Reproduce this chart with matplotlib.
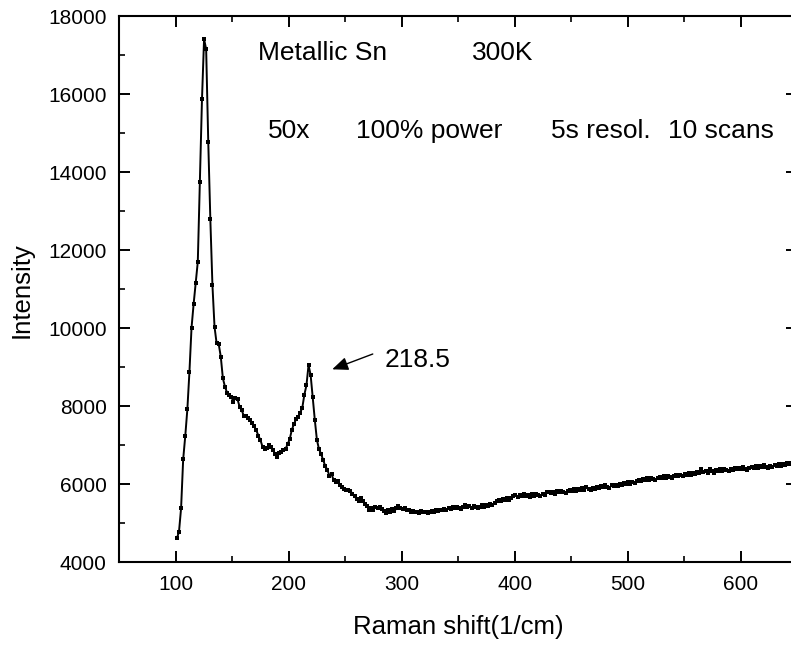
import numpy as np
import matplotlib
matplotlib.use("Agg")
import matplotlib.pyplot as plt
from matplotlib.ticker import MultipleLocator

plt.rcParams['font.family'] = ['Liberation Sans', 'DejaVu Sans']

# Raman spectrum of metallic Sn, sampled every ~1.85 1/cm starting at 101 1/cm
x_start = 101.0
x_step = 1.85
intensity = [
    4615, 4785, 5385, 6641, 7238, 7923, 8887, 10015, 10623, 11153,
    11707, 13743, 15870, 17417, 17155, 14784, 12795, 11110, 10041, 9615,
    9597, 9272, 8718, 8503, 8349, 8300, 8250, 8120, 8210, 8180,
    7990, 7900, 7760, 7740, 7690, 7650, 7570, 7490, 7380, 7250,
    7130, 6960, 6910, 6930, 7000, 6960, 6880, 6780, 6710, 6800,
    6840, 6890, 6910, 7030, 7160, 7400, 7540, 7670, 7730, 7840,
    7960, 8300, 8540, 9060, 8800, 8230, 7650, 7140, 6900, 6780,
    6620, 6470, 6370, 6220, 6260, 6110, 6070, 6084, 5980, 5940,
    5880, 5860, 5850, 5830, 5760, 5700, 5620, 5580, 5640, 5560,
    5500, 5440, 5350, 5400, 5340, 5420, 5380, 5420, 5360, 5310,
    5260, 5330, 5290, 5360, 5310, 5380, 5440, 5400, 5360, 5390,
    5340, 5330, 5300, 5320, 5280, 5300, 5270, 5310, 5280, 5300,
    5260, 5280, 5320, 5290, 5340, 5310, 5350, 5330, 5370, 5340,
    5390, 5360, 5410, 5380, 5430, 5400, 5370, 5420, 5460, 5410,
    5440, 5400, 5450, 5420, 5380, 5420, 5460, 5430, 5480, 5450,
    5500, 5470, 5520, 5560, 5590, 5560, 5620, 5600, 5640, 5610,
    5660, 5700, 5730, 5680, 5720, 5690, 5740, 5700, 5730, 5680,
    5740, 5710, 5760, 5730, 5700, 5760, 5730, 5790, 5810, 5770,
    5800, 5760, 5820, 5790, 5840, 5810, 5780, 5830, 5860, 5820,
    5870, 5840, 5880, 5850, 5900, 5860, 5920, 5880, 5850, 5910,
    5890, 5940, 5900, 5950, 5920, 5970, 5940, 5910, 5970, 5950,
    5990, 5960, 6010, 5980, 6030, 6000, 6050, 6020, 6070, 6040,
    6090, 6120, 6080, 6130, 6100, 6150, 6120, 6170, 6140, 6110,
    6160, 6190, 6150, 6200, 6170, 6220, 6190, 6160, 6210, 6240,
    6200, 6250, 6220, 6270, 6240, 6290, 6250, 6300, 6270, 6320,
    6290, 6380, 6310, 6350, 6300, 6390, 6340, 6300, 6360, 6330,
    6380, 6350, 6400, 6360, 6330, 6390, 6360, 6410, 6380, 6420,
    6390, 6440, 6400, 6370, 6420, 6450, 6410, 6460, 6430, 6470,
    6440, 6490, 6450, 6420, 6480, 6450, 6500, 6470, 6510, 6480,
    6530, 6500, 6540, 6510, 6550, 6520,
]
raman_shift = x_start + x_step * np.arange(len(intensity))

x_ticks = [100, 200, 300, 400, 500, 600]
y_ticks = [4000, 6000, 8000, 10000, 12000, 14000, 16000, 18000]

W, H = 791, 645
fig = plt.figure(figsize=(W / 100, H / 100), dpi=100)
# right spine lies just outside the (cropped) image
ax = fig.add_axes([119.3 / W, (H - 562.3) / H, (797.0 - 119.3) / W, (562.3 - 16.3) / H])

ax.plot(raman_shift, intensity, color='black', linewidth=1.4,
        marker='s', markersize=3.0, markeredgewidth=0, clip_on=True)

ax.set_xlim(50, 650)
ax.set_ylim(4000, 18000)
ax.set_xticks(x_ticks)
ax.set_yticks(y_ticks)
ax.xaxis.set_minor_locator(MultipleLocator(50))
ax.yaxis.set_minor_locator(MultipleLocator(1000))
ax.tick_params(which='both', direction='in', top=True, right=True,
               labelsize=15, colors='black')
ax.tick_params(which='major', length=8, width=1.4, pad=9)
ax.tick_params(which='minor', length=4.5, width=1.2)
for s in ax.spines.values():
    s.set_linewidth(1.5)

fig.text(458 / W, 1 - 627 / H, 'Raman shift(1/cm)', ha='center', va='center', fontsize=18.5)
fig.text(22 / W, 1 - 290 / H, 'Intensity', ha='center', va='center', rotation=90, fontsize=18.5)

tfs = 19
ax.text(172.5, 17058, 'Metallic Sn', ha='left', va='center', fontsize=tfs)
ax.text(362.3, 17058, '300K', ha='left', va='center', fontsize=tfs)
ax.text(181.4, 15059, '50x', ha='left', va='center', fontsize=tfs)
ax.text(260.0, 15059, '100% power', ha='left', va='center', fontsize=tfs)
ax.text(432.0, 15059, '5s resol.', ha='left', va='center', fontsize=tfs)
ax.text(535.6, 15059, '10 scans', ha='left', va='center', fontsize=tfs)

ax.annotate('', xy=(238.5, 8948), xytext=(274.4, 9341),
            arrowprops=dict(arrowstyle='-|>,head_length=0.6,head_width=0.25',
                            color='black', lw=1.0,
                            mutation_scale=16, shrinkA=0, shrinkB=0))
ax.text(285.3, 9187, '218.5', ha='left', va='center', fontsize=tfs)

fig.savefig('out.png', dpi=100)
